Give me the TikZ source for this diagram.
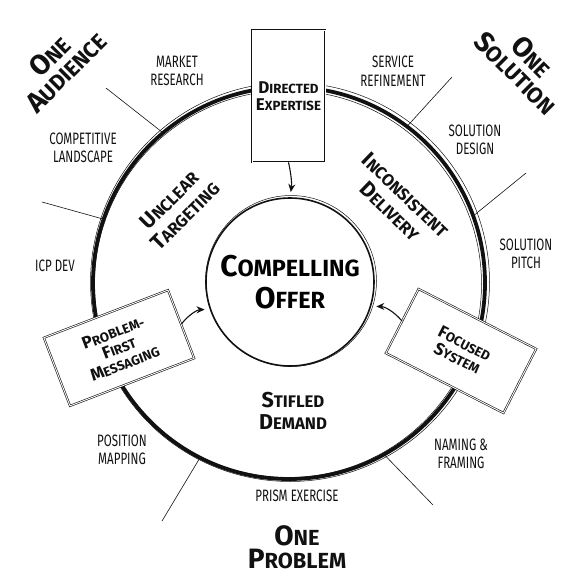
\documentclass[tikz,border=0pt]{standalone}
\usepackage{fontspec}
\setmainfont{Fira Sans}
\usepackage{graphicx}
\usetikzlibrary{arrows.meta}
\definecolor{ink}{HTML}{111111}
\newcommand\hw[2]{#1\scalebox{0.78}{#2}}
\tikzset{
  ring/.style={circle, draw=ink, inner sep=0pt, outer sep=0pt, align=center},
  sketch/.style={draw=ink, line width=0.5pt},
  spoke/.style={draw=ink, line width=0.6pt, line cap=round},
  card/.style={draw=ink, fill=white, line width=0.6pt, double=white, double distance=0.9pt, align=center, inner sep=2pt, text=ink, font=\bfseries\fontsize{17}{16.5}\selectfont},
  arr/.style={draw=ink, line width=1.1pt, -{Stealth[length=8pt,width=7pt]}, shorten >=6pt},
  lbl/.style={text=ink, align=center, xscale=0.7, font=\fontsize{16.5}{18.5}\selectfont},
  head/.style={text=ink, align=center, font=\bfseries\fontsize{28}{22.5}\selectfont},
  topic/.style={text=ink, align=center, font=\bfseries\fontsize{21.5}{22.5}\selectfont},
}
\begin{document}
\begin{tikzpicture}[x=1pt, y=-1pt]
  \useasboundingbox (0,0) rectangle (578,578);
  % rings
  \node[ring, line width=3.8pt, minimum size=392pt] (outer) at (289,283) {};
  \draw[sketch] (290,282) circle[radius=199.5];
  \draw[sketch] (288,284) circle[radius=193.5];
  \node[ring, line width=1.6pt, minimum size=168pt, font=\bfseries\fontsize{30}{32}\selectfont] (offer) at (290,282)
    {\hw{C}{OMPELLING}\\\hw{O}{FFER}};
  \draw[sketch] (291,281) circle[radius=85.5];

  % spokes
  \coordinate (s1) at (106,88);
  \coordinate (s2) at (42,202);
  \coordinate (s3) at (452,77);
  \coordinate (s4) at (526,173);
  \coordinate (s5) at (162,521);
  \coordinate (s6) at (433,505);
  \draw[spoke] (outer.130) -- (s1);
  \draw[spoke] (outer.161) -- (s2);
  \draw[spoke] (outer.53) -- (s3);
  \draw[spoke] (outer.20) -- (s4);
  \draw[spoke] (outer.-117) -- (s5);
  \draw[spoke] (outer.-61) -- (s6);

  % cards
  \node[card, minimum width=73pt, minimum height=132pt] (dexp) at (288.5,96) {\hw{D}{IRECTED}\\\hw{E}{XPERTISE}};
  \node[card, minimum width=133pt, minimum height=73pt, rotate=21] (pfm) at (119,348) {\hw{P}{ROBLEM-}\\\hw{F}{IRST}\\\hw{M}{ESSAGING}};
  \node[card, minimum width=132pt, minimum height=72pt, rotate=-27] (fs) at (461,351) {\hw{F}{OCUSED}\\\hw{S}{YSTEM}};

  \draw[arr] (dexp.south) to[bend left=10] (offer.north);
  \draw[arr] (pfm.east) to[bend left=25] (offer.199);
  \draw[arr] (fs.west) to[bend right=25] (offer.-17);

  % headings
  \node[head, rotate=45] (aud) at (58,64) {\hw{O}{NE}\\\hw{A}{UDIENCE}};
  \node[head, rotate=-45] (sol) at (524,65) {\hw{O}{NE}\\\hw{S}{OLUTION}};
  \node[head] (prob) at (297,547) {\hw{O}{NE}\\\hw{P}{ROBLEM}};

  % ring topics
  \node[topic, rotate=45] (unc) at (177,208) {\hw{U}{NCLEAR}\\\hw{T}{ARGETING}};
  \node[topic, rotate=-44] (inc) at (398,203) {\hw{I}{NCONSISTENT}\\\hw{D}{ELIVERY}};
  \node[topic] (stf) at (293,411) {\hw{S}{TIFLED}\\\hw{D}{EMAND}};

  % outer labels
  \node[lbl] (mkt) at (177,71) {MARKET\\RESEARCH};
  \node[lbl] (svc) at (393,71) {SERVICE\\REFINEMENT};
  \node[lbl] (cmp) at (83,148) {COMPETITIVE\\LANDSCAPE};
  \node[lbl] (sdn) at (475,140) {SOLUTION\\DESIGN};
  \node[lbl] (icp) at (55,266) {ICP DEV};
  \node[lbl] (spt) at (526,254) {SOLUTION\\PITCH};
  \node[lbl] (pos) at (122,450) {POSITION\\MAPPING};
  \node[lbl] (nam) at (461,454) {NAMING \&\\FRAMING};
  \node[lbl] (prm) at (297,496) {PRISM EXERCISE};
\end{tikzpicture}
\end{document}
